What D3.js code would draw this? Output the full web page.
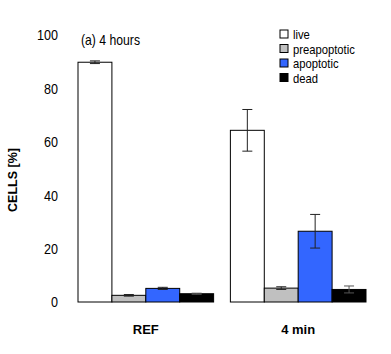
<!DOCTYPE html>
<html>
<head>
<meta charset="utf-8">
<script src="https://cdn.jsdelivr.net/npm/d3@7"></script>
<style>
  body { margin: 0; background: #fff; }
  svg { display: block; }
  .narrow { font-family: "Liberation Sans", Arial, sans-serif; }
  .bold { font-family: "Liberation Sans", Arial, sans-serif; font-weight: bold; }
</style>
</head>
<body>
<div class="canvas"></div>
<script>
// data
const groups = ['REF', '4 min'];
const series = ['live', 'preapoptotic', 'apoptotic', 'dead'];
const colors = ['#ffffff', '#c0c0c0', '#3366ff', '#000000'];
const refValues = [89.8, 2.5, 5.1, 3.1];
const refErrors = [0.5, 0.3, 0.4, 0.2];
const minValues = [64.3, 5.2, 26.5, 4.7];
const minErrors = [7.8, 0.5, 6.3, 1.3];
const yTicks = [0, 20, 40, 60, 80, 100];

const rows = [];
groups.forEach((g, gi) => {
  const vals = gi === 0 ? refValues : minValues;
  const errs = gi === 0 ? refErrors : minErrors;
  series.forEach((s, si) => rows.push({ group: g, series: s, value: vals[si], err: errs[si] }));
});

const width = 391, height = 354;
const svg = d3.select('.canvas')
  .append('svg')
  .attr('width', width)
  .attr('height', height);

svg.append('rect').attr('width', width).attr('height', height).attr('fill', '#fff');

// scales
const x0 = d3.scaleBand().domain(groups).range([78, 366]).paddingInner(0.11);
const x1 = d3.scaleBand().domain(series).range([0, x0.bandwidth()]);
const y = d3.scaleLinear().domain([0, 100]).range([302, 35]);
const color = d3.scaleOrdinal().domain(series).range(colors);

// y axis (labels only)
const yAxis = d3.axisLeft(y).tickValues(yTicks).tickSize(0).tickPadding(0);
const yAxisGroup = svg.append('g')
  .attr('transform', 'translate(58,0)')
  .call(yAxis);
yAxisGroup.select('.domain').remove();
yAxisGroup.selectAll('text')
  .attr('class', 'narrow')
  .attr('font-size', 15)
  .attr('fill', '#000')
  .attr('transform', 'scale(0.84,1)');

// x axis (group labels)
const xAxis = d3.axisBottom(x0).tickSize(0).tickPadding(0);
const xAxisGroup = svg.append('g')
  .attr('transform', 'translate(0,325)')
  .call(xAxis);
xAxisGroup.select('.domain').remove();
xAxisGroup.selectAll('text')
  .attr('class', 'bold')
  .attr('font-size', 13)
  .attr('fill', '#000');

// y label
svg.append('text')
  .attr('class', 'bold')
  .attr('transform', 'translate(17,180) rotate(-90)')
  .attr('text-anchor', 'middle')
  .attr('font-size', 12.5)
  .text('CELLS [%]');

// title
svg.append('text')
  .attr('class', 'narrow')
  .attr('x', 81)
  .attr('y', 45)
  .attr('font-size', 15)
  .attr('textLength', 59)
  .attr('lengthAdjust', 'spacingAndGlyphs')
  .text('(a) 4 hours');

// bars
const graph = svg.append('g');
graph.selectAll('rect.bar')
  .data(rows)
  .enter()
  .append('rect')
  .attr('class', 'bar')
  .attr('x', d => x0(d.group) + x1(d.series))
  .attr('y', d => y(d.value))
  .attr('width', x1.bandwidth())
  .attr('height', d => y(0) - y(d.value))
  .attr('fill', d => color(d.series))
  .attr('stroke', '#000')
  .attr('stroke-width', 1);

// error bars
const errG = graph.selectAll('g.err')
  .data(rows)
  .enter()
  .append('g')
  .attr('class', 'err')
  .attr('stroke', d => d.series === 'dead' ? '#555' : '#222')
  .attr('stroke-width', 1);
const cx = d => x0(d.group) + x1(d.series) + x1.bandwidth() / 2;
errG.append('line')
  .attr('x1', cx).attr('x2', cx)
  .attr('y1', d => y(d.value + d.err)).attr('y2', d => y(d.value - d.err));
errG.append('line')
  .attr('x1', d => cx(d) - 5).attr('x2', d => cx(d) + 5)
  .attr('y1', d => y(d.value + d.err)).attr('y2', d => y(d.value + d.err));
errG.append('line')
  .attr('x1', d => cx(d) - 5).attr('x2', d => cx(d) + 5)
  .attr('y1', d => y(d.value - d.err)).attr('y2', d => y(d.value - d.err));

// legend
const legend = svg.append('g').attr('transform', 'translate(280,30)');
const items = legend.selectAll('g')
  .data(series)
  .enter()
  .append('g')
  .attr('transform', (d, i) => `translate(0,${i * 14.5})`);
items.append('rect')
  .attr('width', 8).attr('height', 8)
  .attr('fill', d => color(d))
  .attr('stroke', '#000');
items.append('text')
  .attr('class', 'narrow')
  .attr('x', 13)
  .attr('y', 9)
  .attr('font-size', 12.5)
  .attr('transform', 'translate(13,0) scale(0.9,1) translate(-13,0)')
  .text(d => d);
</script>
</body>
</html>
